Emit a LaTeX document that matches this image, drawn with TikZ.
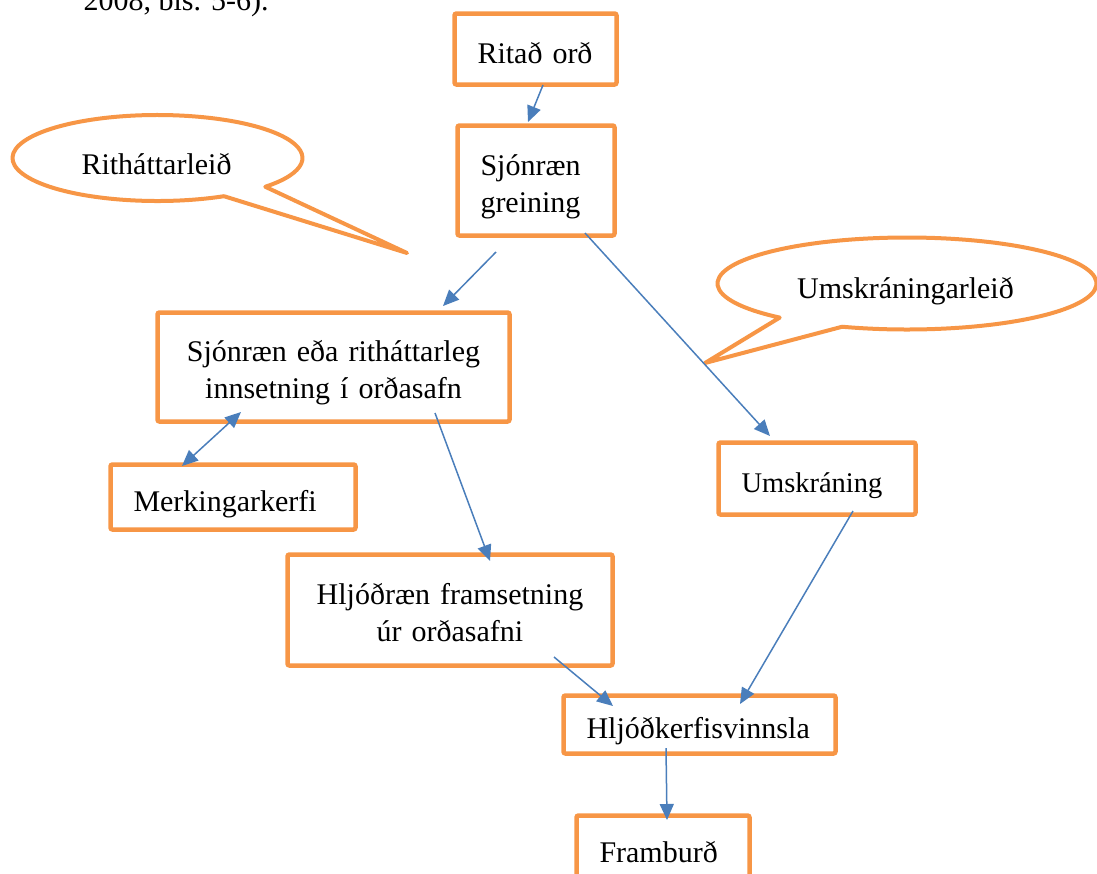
\documentclass[tikz,border=0pt]{standalone}
\usepackage{fontspec}
\setmainfont{Liberation Serif}
\usetikzlibrary{arrows.meta,calc}
\definecolor{cOr}{HTML}{F79646}
\definecolor{cAr}{HTML}{4A7EBB}
\tikzset{
  >={Triangle[length=16pt,width=14pt]},
  bx/.style ={draw=cOr,line width=4.5pt,rounded corners=2pt,fill=white,outer sep=0pt,
              inner xsep=23pt,inner ysep=0pt,text height=28pt,text depth=0pt,align=left,
              font=\fontsize{30}{37}\selectfont},
  bx2/.style={bx,align=center,text depth=39pt},
  ar/.style ={->,line width=1.5pt,cAr},
  co/.style ={draw=cOr,line width=4pt,fill=white,line join=round},
  lbl/.style={font=\fontsize{30}{37}\selectfont,anchor=base},
}
\begin{document}
\begin{tikzpicture}[x=1pt,y=-1pt]
\useasboundingbox (0,0) rectangle (1097,873);
\clip (0,0) rectangle (1097,873);
\node[lbl,anchor=base west] (src) at (80,10) {2008, bls. 5-6).};
% callouts
\coordinate (rc) at (157.5,158);
\coordinate (uc) at (907,283.5);
\draw[co] (407,253) -- ([shift={(62.7:145 and 43)}]rc)
   arc[start angle=62.7,end angle=402,x radius=145,y radius=43] -- cycle;
\draw[co] (705,363) -- ([shift={(132.2:189.5 and 46)}]uc)
   arc[start angle=132.2,end angle=470,x radius=189.5,y radius=46] -- cycle;
\node[lbl] (rl) at (156.5,174) {Ritháttarleið};
\node[lbl] (ul) at (905.5,298) {Umskráningarleið};
% boxes
\node[bx,text width=116pt,minimum height=71pt]          (ro) at (535.5,49)   {Ritað orð};
\node[bx2,align=left,text width=111pt,minimum height=110pt] (sg) at (536,180.5) {Sjónræn\\greining};
\node[bx2,text width=306pt,minimum height=109pt]        (si) at (333.5,367)  {Sjónræn eða ritháttarleg\\innsetning í orðasafn};
\node[bx,text width=199pt,minimum height=65pt]          (mk) at (233,497)    {Merkingarkerfi};
\node[bx2,text width=279pt,minimum height=111pt]        (hf) at (450,610)    {Hljóðræn framsetning\\úr orðasafni};
\node[bx,text width=151pt,minimum height=72pt,font=\fontsize{28.5}{37}\selectfont] (um) at (817,478.5) {Umskráning};
\node[bx,text width=226pt,minimum height=58pt]          (hk) at (699.5,724.5) {Hljóðkerfisvinnsla};
\node[bx,text width=127pt,minimum height=65pt]          (fb) at (663,848)    {Framburð};
% arrows
\draw[ar] ($(ro.south)+(7.5,0.5)$) -- ($(sg.north)+(-8,-3.5)$);
\draw[ar] ($(sg.south)+(-40,16.5)$) -- ($(si.north)+(109.5,-6.5)$);
\draw[ar,<->] ($(si.south)+(-92.5,-9.5)$) -- ($(mk.north)+(-51,1.5)$);
\draw[ar] ($(si.south)+(101.5,-8.5)$) -- ($(hf.north)+(40,6.5)$);
\draw[ar] ($(sg.south)+(49,-2.5)$) -- ($(um.north)+(-47,-6.5)$);
\draw[ar] ($(hf.south)+(104,-8.5)$) -- ($(hk.north)+(-86.5,10.5)$);
\draw[ar] ($(um.south)+(36,-3.5)$) -- ($(hk.north)+(40.5,8.5)$);
\draw[ar] ($(hk.south)+(-33.5,-5.5)$) -- ($(fb.north)+(4,4.5)$);
\end{tikzpicture}
\end{document}
